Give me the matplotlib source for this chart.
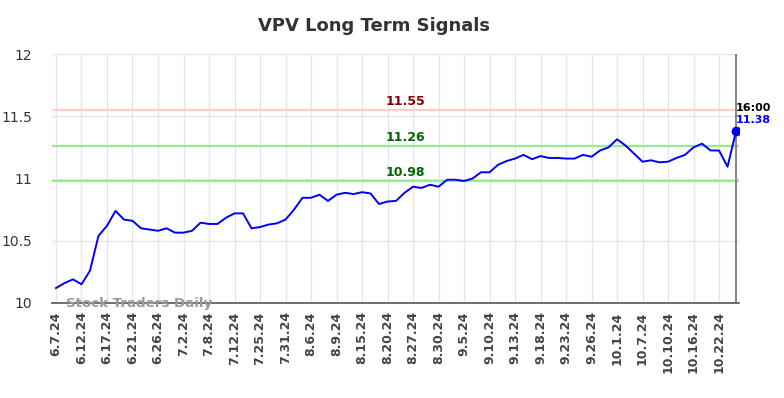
import matplotlib
matplotlib.use("Agg")
import matplotlib.pyplot as plt

title = "VPV Long Term Signals"
tick_labels = ["6.7.24", "6.12.24", "6.17.24", "6.21.24", "6.26.24", "7.2.24", "7.8.24",
               "7.12.24", "7.25.24", "7.31.24", "8.6.24", "8.9.24", "8.15.24", "8.20.24",
               "8.27.24", "8.30.24", "9.5.24", "9.10.24", "9.13.24", "9.18.24", "9.23.24",
               "9.26.24", "10.1.24", "10.7.24", "10.10.24", "10.16.24", "10.22.24"]
prices = [10.12, 10.16, 10.19, 10.15, 10.26, 10.54, 10.62, 10.74, 10.67, 10.66,
          10.60, 10.59, 10.58, 10.60, 10.565, 10.565, 10.58, 10.645, 10.635, 10.635,
          10.685, 10.72, 10.72, 10.60, 10.61, 10.63, 10.64, 10.67, 10.75, 10.845,
          10.845, 10.87, 10.82, 10.87, 10.885, 10.875, 10.89, 10.88, 10.795, 10.815,
          10.82, 10.885, 10.934, 10.924, 10.95, 10.934, 10.99, 10.99, 10.98, 11.00,
          11.05, 11.05, 11.11, 11.14, 11.16, 11.19, 11.155, 11.18, 11.165, 11.165,
          11.16, 11.16, 11.19, 11.175, 11.225, 11.25, 11.315, 11.265, 11.20, 11.135,
          11.146, 11.13, 11.135, 11.165, 11.19, 11.25, 11.28, 11.225, 11.225, 11.095,
          11.38]
levels = [11.55, 11.26, 10.98]
level_line_colors = ["#ffcccc", "#90ee90", "#90ee90"]
level_text_colors = ["#8b0000", "#006400", "#006400"]
last_time = "16:00"
watermark = "Stock Traders Daily"

fig = plt.figure(figsize=(7.84, 3.98), dpi=100)
ax = fig.add_axes([52/784, 1-303/398, 687/784, 249/398])

x = list(range(len(prices)))
tick_pos = list(range(0, 3*len(tick_labels), 3))

ax.set_xlim(-0.47, 80.35)
ax.set_ylim(10, 12)
ax.set_yticks([10, 10.5, 11, 11.5, 12])
ax.set_yticklabels(["10", "10.5", "11", "11.5", "12"])
ax.set_xticks(tick_pos)
ax.set_xticklabels(tick_labels, rotation=90)
ax.grid(True, color="#e6e6e6", lw=1)
ax.set_axisbelow(True)
for s in ["left", "right", "top"]:
    ax.spines[s].set_visible(False)
ax.spines["bottom"].set_color("#555555")
ax.spines["bottom"].set_linewidth(1.2)
ax.tick_params(axis="both", length=0, labelsize=9, colors="#333333", pad=6)
ax.tick_params(axis="y", labelsize=10, pad=14)
for lbl in ax.get_xticklabels():
    lbl.set_fontweight("bold")
    lbl.set_color("#444444")

for lv, lc, tc in zip(levels, level_line_colors, level_text_colors):
    ax.axhline(lv, color=lc, lw=1.6, zorder=1)
    ax.text(41.1, lv + 0.015, f"{lv:.2f}", color=tc, fontsize=9, fontweight="bold",
            ha="center", va="bottom")

ax.axvline(x[-1], color="#888888", lw=1.5, zorder=1)
ax.plot(x, prices, color="#0000ff", lw=1.4, zorder=3)
ax.plot([x[-1]], [prices[-1]], "o", color="#0000ff", ms=6, zorder=4)
ax.text(x[-1], 11.53, last_time, fontsize=8, fontweight="bold", color="black",
        ha="left", va="bottom")
ax.text(x[-1], 11.43, f"{prices[-1]:.2f}", fontsize=8, fontweight="bold", color="#0000ff",
        ha="left", va="bottom")

ax.text(1.2, 10.0, watermark, fontsize=9.6, fontweight="bold", color="#999999",
        ha="left", va="center", zorder=5)

fig.text(0.477, 0.935, title, fontsize=13, fontweight="bold", color="#333333",
         ha="center", va="center")

fig.savefig("out.png", dpi=100)
